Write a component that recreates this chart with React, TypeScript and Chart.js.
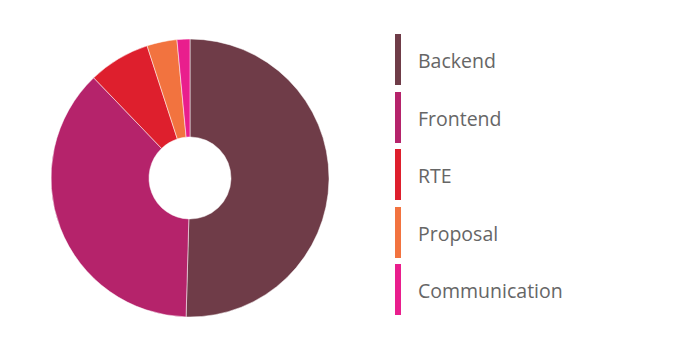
import React, { useEffect, useRef } from "react";
import { Chart, registerables } from "chart.js";

Chart.register(...registerables);

const labels = ["Backend", "Frontend", "RTE", "Proposal", "Communication"];
const values = [50.5, 37.4, 7.2, 3.5, 1.5];
const colors = ["#6f3c48", "#b5236b", "#de1f2d", "#f2733f", "#e91e8d"];

export default function App() {
  const ref = useRef<HTMLCanvasElement | null>(null);
  useEffect(() => {
    if (!ref.current) return;
    const chart = new Chart(ref.current, {
      type: "doughnut",
      data: {
        labels,
        datasets: [
          {
            data: values,
            backgroundColor: colors,
            borderColor: "#ffffff",
            borderWidth: 0.5,
          },
        ],
      },
      options: {
        animation: false,
        responsive: true,
        maintainAspectRatio: false,
        radius: 139,
        cutout: "29.5%",
        plugins: { legend: { display: false }, tooltip: { enabled: false } },
      } as any,
    });
    return () => chart.destroy();
  }, []);

  return (
    <div style={{ position: "relative", width: 684, height: 335 }}>
      <div style={{ position: "absolute", left: 0, top: 0, width: 364, height: 340 }}>
        <canvas ref={ref} />
      </div>
      <div
        style={{
          position: "absolute",
          left: 387,
          top: 26,
          fontFamily: "'Open Sans', sans-serif",
          fontSize: 19.5,
          color: "#666666",
        }}
      >
        {labels.map((l, i) => (
          <div
            key={l}
            style={{ display: "flex", alignItems: "center", height: 51, marginBottom: 6.5 }}
          >
            <div style={{ width: 6, height: 51, background: colors[i] }} />
            <span style={{ marginLeft: 17, lineHeight: "51px", position: "relative", top: 1 }}>{l}</span>
          </div>
        ))}
      </div>
    </div>
  );
}
